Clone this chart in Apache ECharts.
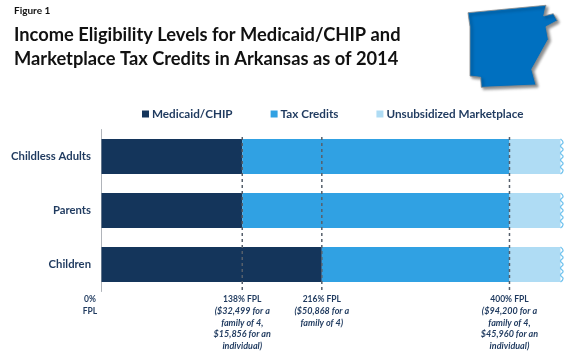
<!DOCTYPE html>
<html><head><meta charset="utf-8">
<style>html,body{margin:0;padding:0;background:#fff}#c{width:570px;height:360px}</style>
<script src="https://cdn.jsdelivr.net/npm/echarts@6/dist/echarts.min.js"></script>
</head><body><div id="c"></div>
<script>
const categories = ['Childless Adults', 'Parents', 'Children'];
const medicaid = [138, 138, 216];
const taxCredits = [262, 262, 184];
const unsubsidized = [50, 50, 50];
const thresholds = [138, 216, 400];
const tickValues = [0, 138, 216, 400];
const tickHeads = ['0%\nFPL', '138% FPL', '216% FPL', '400% FPL'];
const tickNotes = ['', '($32,499 for a\nfamily of 4,\n$15,856 for an\nindividual)', '($50,868 for a\nfamily of 4)', '($94,200 for a\nfamily of 4,\n$45,960 for an\nindividual)'];
const FONT = 'Lato, "Open Sans", sans-serif';
const INK = '#1f3a5f';

const chart = echarts.init(document.getElementById('c'), null, {renderer: 'canvas'});
const lineSeries = thresholds.map(v => ({
  type: 'line', xAxisIndex: 0, yAxisIndex: 1, silent: true, symbol: 'none', z: 5,
  lineStyle: {color: '#555f6b', width: 1.5, type: [3, 3]},
  data: [[v, 7.5], [v, 162]]
}));
chart.setOption({
  animation: false,
  title: [
    {text: 'Figure 1', left: 9, top: 1, textStyle: {fontFamily: FONT, fontSize: 10, fontWeight: 'bold', color: '#111'}},
    {text: 'Income Eligibility Levels for Medicaid/CHIP and\nMarketplace Tax Credits in Arkansas as of 2014', left: 9, top: 18,
     textStyle: {fontFamily: FONT, fontSize: 18.3, fontWeight: 'bold', color: '#111', lineHeight: 24}}
  ],
  legend: {
    left: 137, top: 103, itemWidth: 7, itemHeight: 7, itemGap: 38, icon: 'rect',
    data: ['Medicaid/CHIP', 'Tax Credits', 'Unsubsidized Marketplace'],
    textStyle: {fontFamily: FONT, fontSize: 11.7, fontWeight: 'bold', color: INK, padding: [0, 0, 0, -2]}
  },
  grid: {left: 101.5, width: 460, top: 129.5, height: 162},
  xAxis: {
    type: 'value', min: 0, max: 451, axisLine: {show: false}, splitLine: {show: false},
    axisTick: {show: false},
    axisLabel: {
      customValues: tickValues, margin: 2.5, showMinLabel: true, hideOverlap: false,
      formatter: v => {
        const i = tickValues.indexOf(v);
        if (v === 0) return tickHeads[i].split('\n').map(s => '{z|' + s + '}').join('\n');
        return '{a|' + tickHeads[i] + '}\n' + tickNotes[i].split('\n').map(s => '{b|' + s + '}').join('\n');
      },
      rich: {
        a: {fontFamily: FONT, fontSize: 8.5, fontWeight: 'bold', color: INK, lineHeight: 11.5},
        b: {fontFamily: FONT, fontSize: 9, fontWeight: 'bold', fontStyle: 'italic', color: INK, lineHeight: 11.5},
        z: {fontFamily: FONT, fontSize: 8.5, fontWeight: 'bold', color: INK, lineHeight: 11.5, padding: [0, 23, 0, 0]}
      }
    }
  },
  yAxis: [
    {type: 'category', inverse: true, data: categories,
     axisLine: {lineStyle: {color: '#b0b4ba'}}, axisTick: {length: 4, lineStyle: {color: '#b0b4ba'}},
     axisLabel: {fontFamily: FONT, fontSize: 11.3, fontWeight: 'bold', color: INK, margin: 10.5}},
    {type: 'value', inverse: true, min: 0, max: 162, show: false}
  ],
  series: [
    {name: 'Medicaid/CHIP', type: 'bar', stack: 'a', barWidth: 35, data: medicaid, itemStyle: {color: '#14355b'}},
    {name: 'Tax Credits', type: 'bar', stack: 'a', data: taxCredits, itemStyle: {color: '#30a1e3'}},
    {name: 'Unsubsidized Marketplace', type: 'bar', stack: 'a', data: unsubsidized, itemStyle: {color: '#afdcf4'}},
    ...lineSeries,
    {type: 'custom', silent: true, z: 6, clip: false,
     data: categories.map((c, i) => [medicaid[i] + taxCredits[i] + unsubsidized[i], i]),
     encode: {x: 0, y: 1},
     renderItem: (params, api) => {
       const p = api.coord([api.value(0), api.value(1)]);
       const pts = [];
       for (let k = 0; k <= 10; k++) pts.push([p[0] + (k % 2 ? 2.6 : 0), p[1] - 17.5 + k * 3.5]);
       return {type: 'polyline', shape: {points: pts, smooth: 0.5}, style: {stroke: '#74c4ee', lineWidth: 1.3, fill: null}};
     }},
  ],
  graphic: [{
    type: 'polygon', silent: true,
    shape: {points: [[468,12.7],[546,5.3],[543.7,16],[553.3,13.7],[557.3,20.7],[546,26.7],[548.3,39.3],[531.7,69.3],[536,85],[481.3,87.3],[480.7,77.3],[470,76],[470,26.7]]},
    style: {fill: '#0070c0', stroke: '#8c8c8c', lineWidth: 0.8, shadowBlur: 3, shadowColor: 'rgba(0,0,0,0.45)', shadowOffsetX: 2, shadowOffsetY: 2}
  }]
});
</script></body></html>
